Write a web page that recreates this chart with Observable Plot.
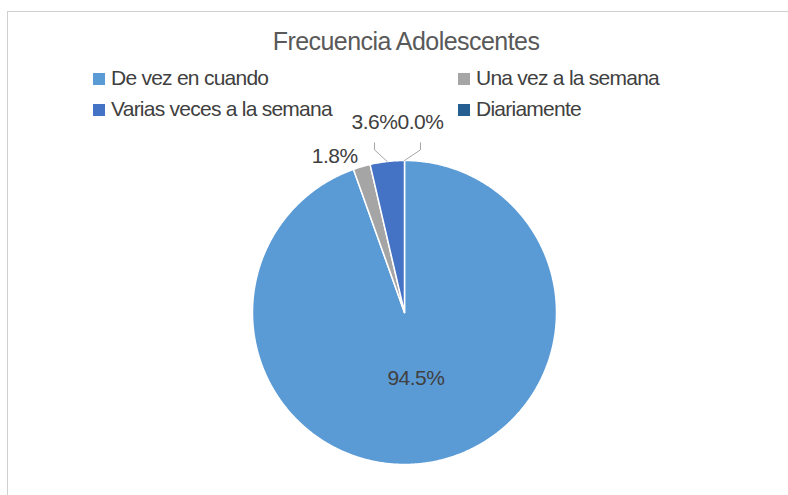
<!DOCTYPE html>
<html><head><meta charset="utf-8">
<script src="https://cdn.jsdelivr.net/npm/d3@7"></script>
<script src="https://cdn.jsdelivr.net/npm/@observablehq/plot@0.6"></script>
<style>
body{margin:0;background:#fff;}
#chart{position:relative;width:788px;height:495px;overflow:hidden;font-family:"Liberation Sans",Arial,sans-serif;background:#fff;}
#frame{position:absolute;left:7px;top:11px;right:-10px;bottom:-10px;border-top:1.5px solid #D0D0D0;border-left:1.5px solid #D0D0D0;}
#chart svg{position:absolute;left:0;top:0;}
.t{position:absolute;white-space:nowrap;line-height:1;}
.sw{position:absolute;width:12px;height:12px;}
</style></head><body>
<div id="chart"><div id="frame"></div></div>
<script>
const title = "Frecuencia Adolescentes";
const categories = ["De vez en cuando", "Una vez a la semana", "Varias veces a la semana", "Diariamente"];
const counts = [52, 1, 2, 0];
const colors = ["#5B9BD5", "#A5A5A5", "#4472C4", "#255E91"];

const W = 788, H = 495, cx = 404, cy = 312, R = 152;
const total = d3.sum(counts);
const fmt = d3.format(".1%");

// slice angles (clockwise from 12 o'clock)
let acc = 0;
const slices = categories.map((name, i) => {
  const a0 = acc / total * 2 * Math.PI;
  acc += counts[i];
  const a1 = acc / total * 2 * Math.PI;
  return {name, value: counts[i], a0, a1, mid: (a0 + a1) / 2};
});

const pol = (a, r) => ({x: r * Math.sin(a), y: r * Math.cos(a)});

const piePts = [];
slices.filter(s => s.value > 0).forEach(s => {
  piePts.push({name: s.name, ...pol(0, 0)});
  const n = Math.max(2, Math.ceil((s.a1 - s.a0) / (Math.PI / 360)));
  for (let k = 0; k <= n; k++) piePts.push({name: s.name, ...pol(s.a0 + (s.a1 - s.a0) * k / n, 1)});
});

// label layout (pixel offsets from slice edge, Excel-like)
const layout = {
  "De vez en cuando": {inside: 0.44},
  "Una vez a la semana": {dx: -27, dy: -10},
  "Varias veces a la semana": {dx: -12.7, dy: -39.7, leader: true},
  "Diariamente": {dx: 16, dy: -38.7, leader: true}
};
const labels = [], leaders = [];
slices.forEach(s => {
  const L = layout[s.name];
  const text = fmt(s.value / total);
  if (L.inside) { labels.push({text, ...pol(s.mid, L.inside)}); return; }
  const e = pol(s.mid, 1);
  const lx = e.x + L.dx / R, ly = e.y - L.dy / R;
  labels.push({text, x: lx, y: ly});
  if (L.leader) {
    leaders.push({name: s.name, x: e.x, y: e.y});
    leaders.push({name: s.name, x: lx, y: ly - 28 / R});
    leaders.push({name: s.name, x: lx, y: ly - 21 / R});
  }
});

const svg = Plot.plot({
  width: W, height: H, margin: 0,
  x: {domain: [-1, 1], range: [cx - R, cx + R], axis: null},
  y: {domain: [-1, 1], range: [cy + R, cy - R], axis: null},
  color: {domain: categories, range: colors},
  style: {fontFamily: '"Liberation Sans", Arial, sans-serif', letterSpacing: "-0.5px", background: "transparent", overflow: "visible"},
  marks: [
    Plot.line(piePts, {x: "x", y: "y", z: "name", fill: "name", stroke: "white", strokeWidth: 1.5, strokeLinejoin: "round", curve: "linear-closed"}),
    Plot.line(leaders, {x: "x", y: "y", z: "name", stroke: "#A6A6A6", strokeWidth: 1}),
    Plot.text(labels, {x: "x", y: "y", text: "text", fontSize: 21, fill: "#404040"})
  ]
});
const chart = document.getElementById("chart");
chart.appendChild(svg);

// title
const t = document.createElement("div");
t.className = "t";
t.textContent = title;
Object.assign(t.style, {fontSize: "25px", letterSpacing: "-0.55px", color: "#595959", left: "406px", top: (50 - 0.846 * 25) + "px", transform: "translateX(-50%)"});
chart.appendChild(t);

// legend (2 columns, row-major)
const colX = [93, 458], rowBase = [84.5, 115.5];
categories.forEach((name, i) => {
  const c = i % 2, r = Math.floor(i / 2);
  const sw = document.createElement("div");
  sw.className = "sw";
  Object.assign(sw.style, {left: colX[c] + "px", top: (rowBase[r] - 12) + "px", background: colors[i]});
  chart.appendChild(sw);
  const lt = document.createElement("div");
  lt.className = "t";
  lt.textContent = name;
  Object.assign(lt.style, {fontSize: "21px", letterSpacing: "-0.75px", color: "#404040", left: (colX[c] + 18) + "px", top: (rowBase[r] - 0.846 * 21) + "px"});
  chart.appendChild(lt);
});
</script>
</body></html>
